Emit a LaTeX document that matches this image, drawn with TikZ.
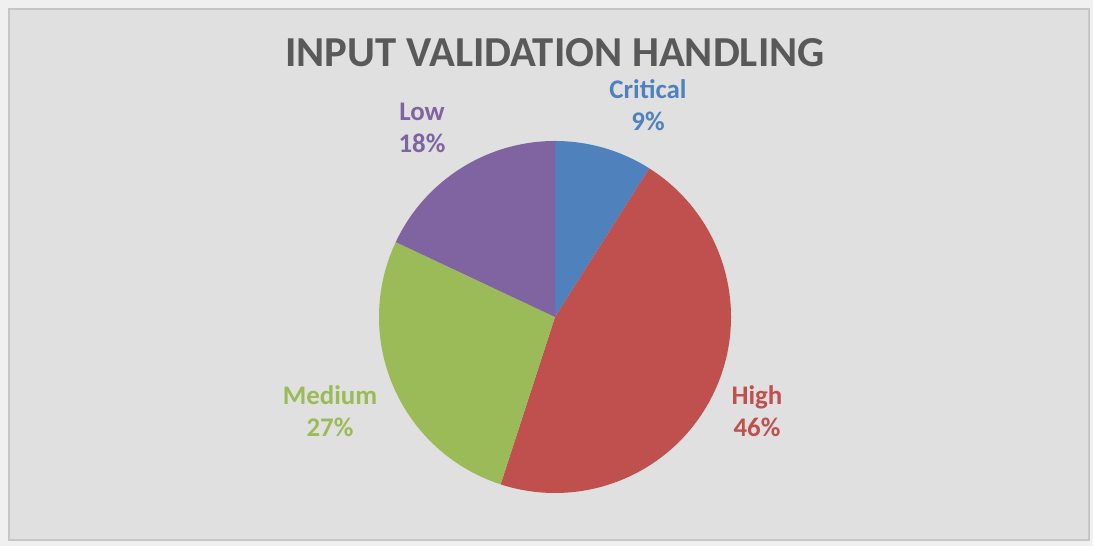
\documentclass[tikz,border=0pt]{standalone}
\usepackage{fontspec}
\setmainfont{Carlito}
\definecolor{critblue}{HTML}{4F81BD}
\definecolor{highred}{HTML}{C0504D}
\definecolor{medgreen}{HTML}{9BBB59}
\definecolor{lowpurple}{HTML}{8064A2}
\definecolor{chartbg}{HTML}{E0E0E0}
\definecolor{titlegray}{HTML}{595959}
\begin{document}
\begin{tikzpicture}[x=0.02cm, y=0.02cm,
  lbl/.style={font=\bfseries\fontsize{15.3}{18.2}\selectfont, align=center}]
\useasboundingbox (0,0) rectangle (1093,546);
\fill[gray!12] (0,0) rectangle (1093,546);
\draw[gray!45, line width=0.05cm, fill=chartbg] (9,6) rectangle (1089,537);
\node[font=\bfseries\fontsize{24.3}{30}\selectfont, text=titlegray] (title) at (555,493) {INPUT VALIDATION HANDLING};
% pie
\coordinate (c) at (555,229);
\fill[critblue] (c) -- ++(90:176) arc (90:57.6:176) -- cycle;
\fill[highred] (c) -- ++(57.6:176) arc (57.6:-108:176) -- cycle;
\fill[medgreen] (c) -- ++(-108:176) arc (-108:-205.2:176) -- cycle;
\fill[lowpurple] (c) -- ++(154.8:176) arc (154.8:90:176) -- cycle;
% labels
\node[lbl, text=critblue] (critical) at (648,441) {Critical\\9\%};
\node[lbl, text=highred] (high) at (757,135) {High\\46\%};
\node[lbl, text=medgreen] (medium) at (330,135) {Medium\\27\%};
\node[lbl, text=lowpurple] (low) at (422,418) {Low\\18\%};
\end{tikzpicture}
\end{document}
